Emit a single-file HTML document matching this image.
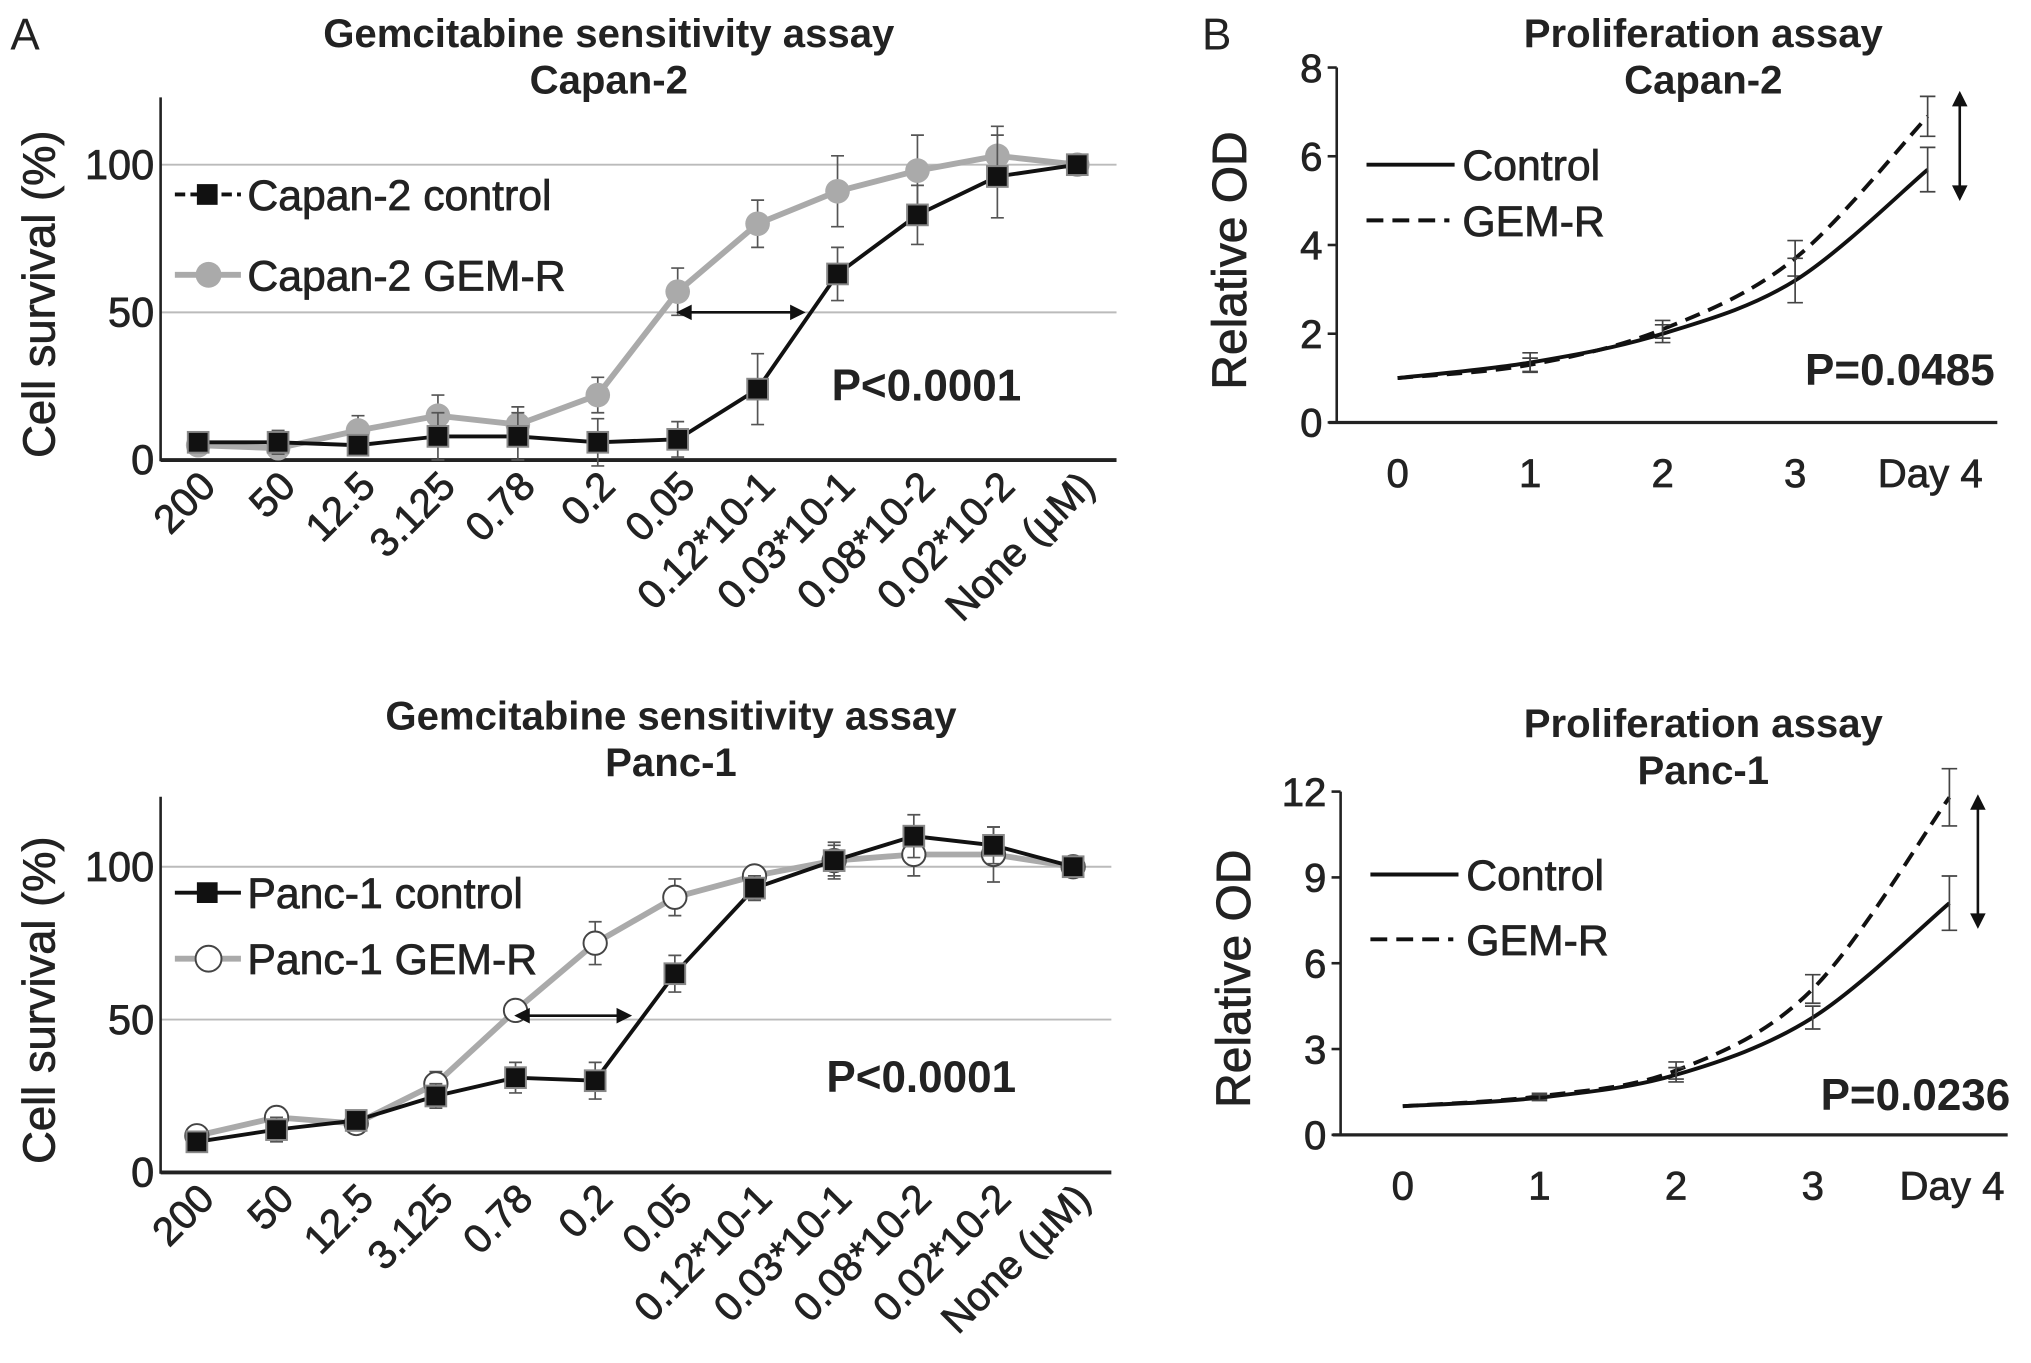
<!DOCTYPE html>
<html><head><meta charset="utf-8"><style>
html,body{margin:0;padding:0;background:#fff}
svg{display:block}
text{font-family:"Liberation Sans",sans-serif;fill:#222}
</style></head><body>
<svg id="fig" width="2031" height="1363" viewBox="0 0 1568 1052" xmlns="http://www.w3.org/2000/svg">
<text x="8" y="38" font-size="34">A</text>
<text x="928" y="38" font-size="34">B</text>
<g id="g1"></g>
<g id="g2"></g>
<g id="g3"></g>
<g id="g4"></g>
</svg>
<script>
const doseCats = ["200","50","12.5","3.125","0.78","0.2","0.05","0.12*10-1","0.03*10-1","0.08*10-2","0.02*10-2","None (\u00b5M)"];
const capCtrl = [6,6,5,8,8,6,7,24,63,83,96,100];
const capCtrlErr = [3,4,3,8,8,8,6,12,9,10,14,0];
const capGem = [5,4,10,15,12,22,57,80,91,98,103,100];
const capGemErr = [3,3,5,7,6,6,8,8,12,12,10,0];
const pancCtrl = [10,14,17,25,31,30,65,93,102,110,107,100];
const pancCtrlErr = [3,4,3,4,5,6,6,4,5,7,6,0];
const pancGem = [12,18,16,29,53,75,90,97,102,104,104,100];
const pancGemErr = [3,3,3,4,3,7,6,3,6,7,9,0];
const survTicks = [0,50,100];
const dayCats = ["0","1","2","3","Day 4"];
const proCapCtrl = [1,1.35,2.0,3.2,5.7];
const proCapCtrlErr = [0,0.22,0.2,0.5,0.5];
const proCapGem = [1,1.3,2.1,3.7,6.9];
const proCapGemErr = [0,0.15,0.2,0.4,0.45];
const proPancCtrl = [1,1.3,2.1,4.1,8.1];
const proPancCtrlErr = [0,0.1,0.25,0.4,0.95];
const proPancGem = [1,1.35,2.25,5.1,11.8];
const proPancGemErr = [0,0.1,0.3,0.5,1.0];
const odTicksA = [0,2,4,6,8];
const odTicksB = [0,3,6,9,12];

const NS="http://www.w3.org/2000/svg";
function mk(parent,tag,attrs,txt){const e=document.createElementNS(NS,tag);for(const k in attrs)e.setAttribute(k,attrs[k]);if(txt!==undefined)e.textContent=txt;parent.appendChild(e);return e;}
const HV={stroke:'#222','stroke-width':0.6};

function survival(gid,o){
  const g=document.getElementById(gid);
  const y=v=>o.y0-(v/50)*(o.y0-o.y50);
  const x=i=>o.x0+i*o.step;
  mk(g,'text',{x:o.tx,y:o.ty1,'font-size':31,'font-weight':'bold','text-anchor':'middle',fill:'#333',},o.t1);
  mk(g,'text',{x:o.tx,y:o.ty1+36,'font-size':31,'font-weight':'bold','text-anchor':'middle',fill:'#333',},o.t2);
  survTicks.forEach(t=>{
    if(t>0){const l=mk(g,'line',{x1:o.ax,x2:o.xe,y1:y(t),y2:y(t),stroke:'#bbb','stroke-width':1.5});}
    const tx=mk(g,'text',Object.assign({x:o.ax-5,y:y(t)+11,'font-size':32,'text-anchor':'end'},HV),String(t));
    
  });
  const ya=mk(g,'line',{x1:o.ax,x2:o.ax,y1:o.ytop,y2:o.y0+1,stroke:'#222','stroke-width':2});
  
  const xa=mk(g,'line',{x1:o.ax,x2:o.xe,y1:o.y0,y2:o.y0,stroke:'#222','stroke-width':3});
  
  const yt=mk(g,'text',Object.assign({x:0,y:0,'font-size':35,'text-anchor':'middle',transform:`translate(42,${(o.y0+o.ytop)/2+12}) rotate(-90)`},HV),'Cell survival (%)');
  
  doseCats.forEach((c,i)=>{
    const t=mk(g,'text',Object.assign({x:0,y:0,'font-size':31,'text-anchor':'end',transform:`translate(${x(i)+15},${o.y0+22}) rotate(-45)`},HV),c);
    
  });
  function series(vals,errs,col,marker,name){
    const s=mk(g,'g',{});
    vals.forEach((v,i)=>{if(errs[i]>0){const e=mk(s,'path',{d:`M${x(i)},${y(v-errs[i])}V${y(v+errs[i])}M${x(i)-5},${y(v-errs[i])}h10M${x(i)-5},${y(v+errs[i])}h10`,stroke:'#555','stroke-width':1.3,fill:'none'});}});
    const p=mk(s,'polyline',{points:vals.map((v,i)=>x(i)+','+y(v)).join(' '),fill:'none',stroke:col,'stroke-width':marker==='sq'?3:4.5});
    
    vals.forEach((v,i)=>{let m;
      if(marker==='sq')m=mk(s,'rect',{x:x(i)-8,y:y(v)-8,width:16,height:16,fill:'#111',stroke:'#888','stroke-width':1.5});
      else if(marker==='gc')m=mk(s,'circle',{cx:x(i),cy:y(v),r:9.5,fill:'#aaa'});
      else m=mk(s,'circle',{cx:x(i),cy:y(v),r:9,fill:'#fff',stroke:'#444','stroke-width':1.5});
      });
  }
  series(o.gem,o.gemErr,'#aaa',o.gm,'gem-r-series');
  series(o.ctrl,o.ctrlErr,'#111','sq','control-series');
  const lg=mk(g,'g',{});
  const l1=o.ly1,l2=o.ly2;
  mk(lg,'line',{x1:135,x2:186,y1:l1,y2:l1,stroke:'#111','stroke-width':3,'stroke-dasharray':o.dash?'8,4':''});
  mk(lg,'rect',{x:152,y:l1-8,width:16,height:16,fill:'#111'});
  mk(lg,'text',Object.assign({x:191,y:l1+12,'font-size':33},HV),o.lab1);
  mk(lg,'line',{x1:135,x2:186,y1:l2,y2:l2,stroke:'#aaa','stroke-width':4.5});
  if(o.gm==='gc')mk(lg,'circle',{cx:161,cy:l2,r:10,fill:'#aaa'});else mk(lg,'circle',{cx:161,cy:l2,r:10,fill:'#fff',stroke:'#444','stroke-width':1.5});
  mk(lg,'text',Object.assign({x:191,y:l2+12,'font-size':33},HV),o.lab2);
  const ar=mk(g,'g',{});
  const ay=y(50)+o.ady;
  mk(ar,'line',{x1:o.a1+8,x2:o.a2-8,y1:ay,y2:ay,stroke:'#111','stroke-width':2});
  mk(ar,'path',{d:`M${o.a1},${ay}l12,-6v12zM${o.a2},${ay}l-12,-6v12z`,fill:'#111'});
  const pt=mk(g,'text',{x:o.px,y:o.py,'font-size':34,'font-weight':'bold',fill:'#222'},'P<0.0001');
  
}

function spline(pts){let d=`M${pts[0][0]},${pts[0][1]}`;for(let i=0;i<pts.length-1;i++){const p0=pts[Math.max(0,i-1)],p1=pts[i],p2=pts[i+1],p3=pts[Math.min(pts.length-1,i+2)];const c1=[p1[0]+(p2[0]-p0[0])/6,p1[1]+(p2[1]-p0[1])/6],c2=[p2[0]-(p3[0]-p1[0])/6,p2[1]-(p3[1]-p1[1])/6];d+=`C${c1[0]},${c1[1]} ${c2[0]},${c2[1]} ${p2[0]},${p2[1]}`;}return d;}

function prolif(gid,o){
  const g=document.getElementById(gid);
  const y=v=>o.y0-(v/o.tmax)*(o.y0-o.ytop);
  const x=i=>o.x0+i*o.step;
  mk(g,'text',{x:o.tx,y:o.ty1,'font-size':31,'font-weight':'bold','text-anchor':'middle',fill:'#333',},'Proliferation assay');
  mk(g,'text',{x:o.tx,y:o.ty1+36,'font-size':31,'font-weight':'bold','text-anchor':'middle',fill:'#333',},o.t2);
  o.ticks.forEach(t=>{
    const tk=mk(g,'line',{x1:o.ax-7,x2:o.ax,y1:y(t),y2:y(t),stroke:'#222','stroke-width':2});
    const tx=mk(g,'text',Object.assign({x:o.ax-11,y:y(t)+11,'font-size':31,'text-anchor':'end'},HV),String(t));
    
  });
  const ya=mk(g,'line',{x1:o.ax,x2:o.ax,y1:y(o.tmax),y2:o.y0,stroke:'#222','stroke-width':2});
  const xa=mk(g,'line',{x1:o.ax-6,x2:o.xe,y1:o.y0,y2:o.y0,stroke:'#222','stroke-width':2.5});
  dayCats.forEach((c,i)=>{const t=mk(g,'text',Object.assign({x:x(i)+(i===4?2:0),y:o.y0+50,'font-size':31,'text-anchor':'middle'},HV),c);});
  const yt=mk(g,'text',Object.assign({x:0,y:0,'font-size':37,'text-anchor':'middle',transform:`translate(${o.ax-70},${(o.y0+y(o.tmax))/2+12}) rotate(-90)`},HV),'Relative OD');
  
  function series(vals,errs,dash,name){
    const s=mk(g,'g',{});
    const p=mk(s,'path',{d:spline(vals.map((v,i)=>[x(i),y(v)])),fill:'none',stroke:'#111','stroke-width':3,'stroke-dasharray':dash?'12,7':''});
    
    vals.forEach((v,i)=>{if(errs[i]>0){const e=mk(s,'path',{d:`M${x(i)},${y(v-errs[i])}V${y(v+errs[i])}M${x(i)-6},${y(v-errs[i])}h12M${x(i)-6},${y(v+errs[i])}h12`,stroke:'#444','stroke-width':1.3,fill:'none'});}});
  }
  series(o.gem,o.gemErr,true,'gem-r-series');
  series(o.ctrl,o.ctrlErr,false,'control-series');
  const lg=mk(g,'g',{});
  mk(lg,'line',{x1:o.lx,x2:o.lx+68,y1:o.ly1,y2:o.ly1,stroke:'#111','stroke-width':3});
  mk(lg,'text',Object.assign({x:o.lx+74,y:o.ly1+12,'font-size':33},HV),'Control');
  mk(lg,'line',{x1:o.lx,x2:o.lx+64,y1:o.ly2,y2:o.ly2,stroke:'#111','stroke-width':3,'stroke-dasharray':'13,7'});
  mk(lg,'text',Object.assign({x:o.lx+74,y:o.ly2+12,'font-size':33},HV),'GEM-R');
  const ar=mk(g,'g',{});
  mk(ar,'line',{x1:o.arx,x2:o.arx,y1:o.ar1+8,y2:o.ar2-8,stroke:'#111','stroke-width':2});
  mk(ar,'path',{d:`M${o.arx},${o.ar1}l-6,12h12zM${o.arx},${o.ar2}l-6,-12h12z`,fill:'#111'});
  const pt=mk(g,'text',{x:o.px,y:o.py,'font-size':34,'font-weight':'bold','text-anchor':'end'},o.p);
  
}

survival('g1',{t1:'Gemcitabine sensitivity assay',t2:'Capan-2',tx:470,ty1:36,ax:124,xe:862,ytop:75,y0:355,y50:241,x0:153,step:61.7,
  ctrl:capCtrl,ctrlErr:capCtrlErr,gem:capGem,gemErr:capGemErr,gm:'gc',lab1:'Capan-2  control',lab2:'Capan-2 GEM-R',ly1:150,ly2:212,dash:true,a1:522,a2:622,ady:0,px:642,py:309});
survival('g2',{t1:'Gemcitabine sensitivity assay',t2:'Panc-1',tx:518,ty1:563,ax:124,xe:858,ytop:615,y0:905,y50:787,x0:152,step:61.5,
  ctrl:pancCtrl,ctrlErr:pancCtrlErr,gem:pancGem,gemErr:pancGemErr,gm:'wc',lab1:'Panc-1 control',lab2:'Panc-1 GEM-R',ly1:689,ly2:740,dash:false,a1:397,a2:488,ady:-3,px:638,py:843});
prolif('g3',{t2:'Capan-2',tx:1315,ty1:36,ax:1032,xe:1542,ytop:52,y0:326,tmax:8,x0:1079,step:102.3,ticks:odTicksA,
  ctrl:proCapCtrl,ctrlErr:proCapCtrlErr,gem:proCapGem,gemErr:proCapGemErr,lx:1055,ly1:127,ly2:170,arx:1513,ar1:70,ar2:155,px:1540,py:297,p:'P=0.0485'});
prolif('g4',{t2:'Panc-1',tx:1315,ty1:569,ax:1035,xe:1550,ytop:611,y0:876,tmax:12,x0:1083,step:105.5,ticks:odTicksB,
  ctrl:proPancCtrl,ctrlErr:proPancCtrlErr,gem:proPancGem,gemErr:proPancGemErr,lx:1058,ly1:675,ly2:725,arx:1527,ar1:613,ar2:717,px:1552,py:857,p:'P=0.0236'});
</script>
</body></html>
